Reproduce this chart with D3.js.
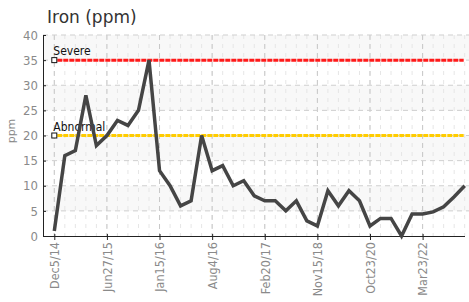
<!DOCTYPE html>
<html>
<head>
<meta charset="UTF-8">
<script src="https://cdn.jsdelivr.net/npm/d3@7"></script>
<style>
  body { margin: 0; background: #fff; }
  .cond { font-family: 'DejaVu Sans Condensed', 'Liberation Sans Narrow', sans-serif; font-stretch: condensed; }
</style>
</head>
<body>
<svg id="chart" width="469" height="302"></svg>
<script>
// valores (40 muestras, separación uniforme)
const ironValues = [1, 16, 17, 28, 18, 20, 23, 22, 25, 35,
                    13, 10, 6, 7, 20, 13, 14, 10, 11, 8,
                    7, 7, 5, 7, 3, 2, 9, 6, 9, 7,
                    2, 3.5, 3.5, 0, 4.4, 4.4, 4.8, 5.8, 7.8, 10];
const tickIndex = [0, 5, 10, 15, 20, 25, 30, 35];
const tickLabels = ['Dec5/14', 'Jun27/15', 'Jan15/16', 'Aug4/16', 'Feb20/17', 'Nov15/18', 'Oct23/20', 'Mar23/22'];
const yTicks = [0, 5, 10, 15, 20, 25, 30, 35, 40];
const limitNames = ['Severe', 'Abnormal'];
const limitValues = [35, 20];
const limitColors = ['#ff1a1a', '#ffcc00'];

const svg = d3.select('#chart');
const plotLeft = 43, plotRight = 469, plotTop = 35, plotBottom = 236;

const x = d3.scaleLinear().domain([0, ironValues.length - 1]).range([54.3, 464.7]);
const y = d3.scaleLinear().domain([0, 40]).range([plotBottom, plotTop]);

// título
svg.append('text')
  .attr('x', 47).attr('y', 23)
  .attr('font-family', 'DejaVu Sans, sans-serif')
  .attr('font-size', 17).attr('fill', '#333')
  .text('Iron (ppm)');

// bandas alternas
const bands = d3.range(5, 40, 10);
svg.append('g').selectAll('rect').data(bands).enter().append('rect')
  .attr('x', plotLeft).attr('width', plotRight - plotLeft)
  .attr('y', d => y(d + 5)).attr('height', d => y(d) - y(d + 5))
  .attr('fill', '#f8f8f8');

// rejilla vertical menor
svg.append('g').selectAll('line').data(d3.range(ironValues.length)).enter().append('line')
  .attr('x1', d => x(d)).attr('x2', d => x(d))
  .attr('y1', plotTop).attr('y2', plotBottom)
  .attr('stroke', '#e6e6e6').attr('stroke-dasharray', '4,5');

// rejilla vertical mayor
svg.append('g').selectAll('line').data(tickIndex).enter().append('line')
  .attr('x1', d => x(d)).attr('x2', d => x(d))
  .attr('y1', plotTop).attr('y2', plotBottom)
  .attr('stroke', '#c8c8c8').attr('stroke-dasharray', '5,4');

// rejilla horizontal
svg.append('g').selectAll('line').data(yTicks.slice(1)).enter().append('line')
  .attr('x1', plotLeft).attr('x2', plotRight)
  .attr('y1', d => y(d)).attr('y2', d => y(d))
  .attr('stroke', '#cfcfcf').attr('stroke-dasharray', '5,4');

// ejes
const yAxis = svg.append('g').attr('transform', `translate(${plotLeft},0)`)
  .call(d3.axisLeft(y).tickValues(yTicks).tickSize(3).tickSizeOuter(0));
yAxis.select('.domain').attr('stroke', '#222');
yAxis.selectAll('.tick line').attr('stroke', '#222').attr('x2', 3);
yAxis.selectAll('text').attr('class', 'cond').attr('font-size', 13).attr('fill', '#8a8a8a').attr('x', -5);

const xAxis = svg.append('g').attr('transform', `translate(0,${plotBottom})`)
  .call(d3.axisBottom(x).tickValues(tickIndex).tickFormat((d, i) => tickLabels[i]).tickSize(4).tickSizeOuter(0));
xAxis.select('.domain').attr('d', `M${plotLeft},0.5H${plotRight - 4}`).attr('stroke', '#222');
xAxis.selectAll('.tick line').attr('stroke', '#222').attr('y1', -2);
xAxis.selectAll('text')
  .attr('class', 'cond').attr('font-size', 12.5).attr('fill', '#8a8a8a')
  .attr('transform', 'rotate(-90)')
  .attr('text-anchor', 'end').attr('x', -6).attr('y', 0).attr('dy', '0.35em');

// etiqueta eje y
svg.append('text')
  .attr('transform', 'translate(15,131) rotate(-90)')
  .attr('text-anchor', 'middle')
  .attr('font-family', 'DejaVu Sans, sans-serif')
  .attr('font-size', 11).attr('fill', '#8a8a8a')
  .text('ppm');

// líneas límite
limitValues.forEach((v, i) => {
  svg.append('line')
    .attr('x1', x(0) + 3).attr('x2', x(ironValues.length - 1) - 1)
    .attr('y1', y(v)).attr('y2', y(v))
    .attr('stroke', limitColors[i]).attr('stroke-width', 3)
    .attr('stroke-dasharray', '5,1');
  svg.append('rect')
    .attr('x', x(0) - 2.5).attr('y', y(v) - 2.5)
    .attr('width', 5).attr('height', 5)
    .attr('fill', '#fff').attr('stroke', '#111').attr('stroke-width', 1);
  svg.append('text')
    .attr('class', 'cond')
    .attr('x', x(0) - 1).attr('y', y(v) - 5)
    .attr('font-size', 12).attr('fill', '#111')
    .text(limitNames[i]);
});

// serie
const line = d3.line().x((d, i) => x(i)).y(d => y(d));
svg.append('path')
  .datum(ironValues)
  .attr('d', line)
  .attr('fill', 'none')
  .attr('stroke', '#454545')
  .attr('stroke-width', 3.5)
  .attr('stroke-linejoin', 'miter');
</script>
</body>
</html>
